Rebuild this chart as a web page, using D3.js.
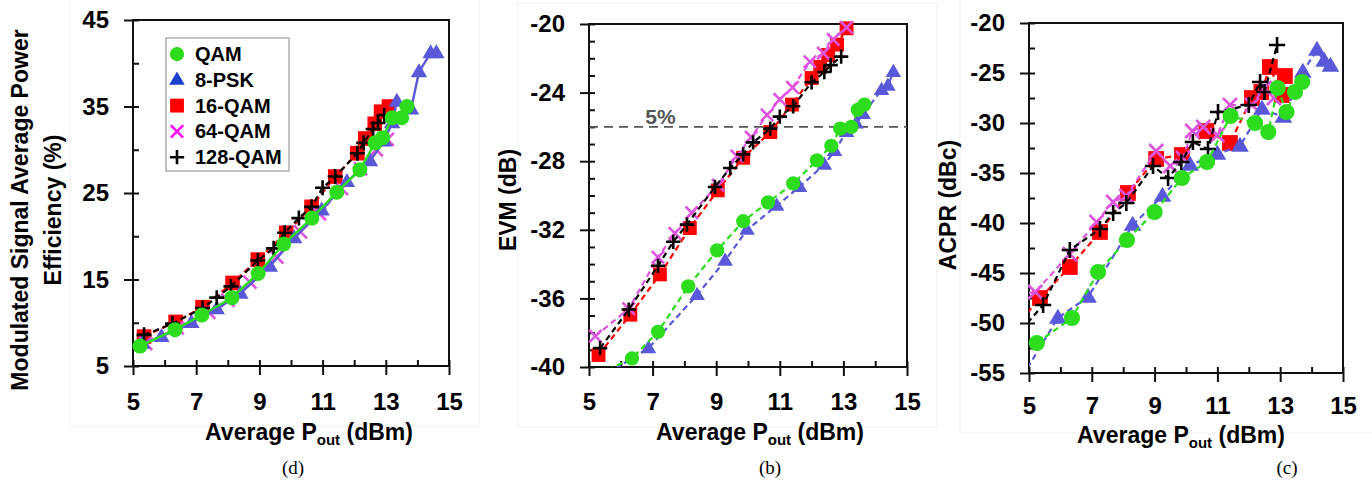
<!DOCTYPE html>
<html>
<head>
<meta charset="utf-8">
<script src="https://cdn.jsdelivr.net/npm/d3@7"></script>
<style>
  html, body { margin: 0; padding: 0; background: #fff; }
  svg { display: block; }
</style>
</head>
<body>
<svg id="fig" width="1372" height="481"></svg>
<script>
// ---------- shared axis values ----------
const xTicksMajor = [5, 7, 9, 11, 13, 15];
const xTicksAll   = [5, 6, 7, 8, 9, 10, 11, 12, 13, 14, 15];
const seriesNames = ["QAM", "8-PSK", "16-QAM", "64-QAM", "128-QAM"];

// ---------- (d) average power efficiency (%) vs Pout (dBm) ----------
const effYMajor = [5, 15, 25, 35, 45];
const effYAll   = [5, 10, 15, 20, 25, 30, 35, 40, 45];
const effQamX = [5.22, 6.33, 7.18, 8.13, 8.96, 9.77, 10.66, 11.45, 12.18, 12.66, 12.9, 13.2, 13.5, 13.67];
const effQamY = [7.3, 9.2, 10.9, 12.9, 15.7, 19.1, 22.1, 25.1, 27.7, 30.8, 31.4, 33.7, 33.7, 35.0];
const effPskX = [5.3, 5.9, 6.85, 7.65, 8.4, 9.33, 10.1, 10.97, 11.77, 12.5, 12.95, 13.2, 13.35, 13.8, 14.05, 14.42, 14.6];
const effPskY = [7.6, 8.4, 10.0, 11.6, 13.4, 16.5, 19.8, 23.0, 26.3, 28.7, 31.0, 33.1, 35.6, 34.7, 39.0, 41.2, 41.2];
const eff16X  = [5.35, 6.35, 7.2, 8.15, 8.95, 9.85, 10.65, 11.4, 12.1, 12.35, 12.65, 12.85, 13.1];
const eff16Y  = [8.4, 10.1, 11.8, 14.6, 17.3, 20.4, 23.4, 26.9, 29.6, 31.3, 33.0, 34.4, 35.0];
const eff64X  = [5.4, 6.4, 7.4, 8.0, 8.7, 9.55, 10.3, 10.9, 11.6, 12.2, 12.7, 13.05];
const eff64Y  = [7.6, 9.4, 11.2, 12.6, 14.7, 17.6, 20.5, 22.6, 25.5, 27.8, 30.0, 31.2];
const eff128X = [5.35, 6.25, 7.2, 7.65, 8.1, 8.95, 9.45, 9.8, 10.25, 10.65, 11.0, 11.4, 12.1, 12.3, 12.6, 12.75, 12.95];
const eff128Y = [8.6, 9.9, 11.7, 12.9, 14.2, 17.2, 18.6, 20.4, 22.1, 23.4, 25.6, 26.9, 29.6, 30.8, 32.4, 33.1, 34.0];

// ---------- (b) EVM (dB) vs Pout (dBm) ----------
const evmYMajor = [-40, -36, -32, -28, -24, -20];
const evmYAll   = d3.range(-40, -19, 1);
const evmLimit  = -26;           // 5 % EVM
const evmLimitLabel = "5%";
const evmQamX = [5.3, 6.35, 7.17, 8.12, 9.03, 9.85, 10.63, 11.42, 12.17, 12.62, 12.9, 13.25, 13.45, 13.66];
const evmQamY = [-40.4, -39.5, -37.95, -35.3, -33.2, -31.5, -30.4, -29.3, -27.95, -27.1, -26.1, -26.0, -25.0, -24.7];
const evmPskX = [5.3, 6.87, 8.4, 9.28, 9.97, 10.9, 11.62, 12.4, 12.72, 13.1, 13.4, 13.62, 14.2, 14.4, 14.57];
const evmPskY = [-40.7, -38.9, -35.8, -33.8, -32.0, -30.6, -29.5, -28.2, -27.4, -26.3, -25.8, -25.25, -23.85, -23.6, -22.8];
const evm16X  = [5.3, 6.3, 7.23, 8.17, 9.05, 9.85, 10.7, 11.38, 12.0, 12.27, 12.52, 12.8, 13.1];
const evm16Y  = [-39.3, -36.95, -34.6, -31.9, -29.7, -27.8, -26.3, -24.7, -23.15, -22.5, -21.8, -21.2, -20.25];
const evm64X  = [5.2, 6.25, 7.17, 7.7, 8.23, 9.06, 9.65, 10.1, 10.6, 11.0, 11.4, 11.95, 12.37, 12.68, 13.1];
const evm64Y  = [-38.2, -36.6, -33.6, -32.2, -31.0, -29.4, -27.7, -26.6, -25.3, -24.4, -23.7, -22.2, -21.7, -20.9, -20.2];
const evm128X = [5.35, 6.25, 7.17, 7.65, 8.08, 8.96, 9.44, 9.85, 10.16, 10.7, 11.0, 11.42, 12.0, 12.4, 12.6, 12.93];
const evm128Y = [-38.9, -36.65, -34.1, -32.7, -31.7, -29.5, -28.4, -27.6, -26.9, -26.1, -25.4, -24.8, -23.4, -22.8, -22.4, -21.9];

// ---------- (c) ACPR (dBc) vs Pout (dBm) ----------
const acprYMajor = [-55, -50, -45, -40, -35, -30, -25, -20];
const acprYAll   = d3.range(-55, -19, 2.5);
const acprQamX = [5.25, 6.37, 7.2, 8.12, 9.0, 9.87, 10.67, 11.42, 12.2, 12.62, 12.92, 13.2, 13.47, 13.7];
const acprQamY = [-52.0, -49.5, -44.9, -41.7, -38.9, -35.5, -33.9, -29.3, -30.0, -30.9, -26.5, -28.9, -26.9, -25.9];
const acprPskX = [4.95, 5.92, 6.88, 8.3, 9.25, 10.13, 11.0, 11.72, 12.42, 13.1, 13.72, 14.17, 14.4, 14.6];
const acprPskY = [-54.5, -49.5, -47.4, -40.2, -37.3, -34.2, -33.1, -32.3, -28.6, -29.4, -24.9, -22.7, -23.8, -24.3];
const acpr16X  = [4.95, 5.35, 6.3, 7.26, 8.15, 9.05, 9.87, 10.65, 11.4, 12.1, 12.4, 12.67, 13.05, 13.15];
const acpr16Y  = [-49.0, -47.5, -44.4, -40.9, -37.0, -33.6, -33.2, -30.8, -32.0, -27.5, -26.9, -24.4, -27.2, -25.3];
const acpr64X  = [4.95, 5.2, 6.3, 7.15, 7.68, 8.1, 9.05, 9.5, 9.9, 10.2, 10.55, 11.0, 11.4, 12.1, 12.5, 12.8];
const acpr64Y  = [-47.0, -46.9, -43.1, -39.9, -37.9, -37.3, -32.8, -34.3, -33.5, -30.8, -30.4, -31.2, -28.2, -28.2, -26.5, -27.5];
const acpr128X = [4.95, 5.45, 6.3, 7.26, 7.68, 8.1, 8.95, 9.43, 9.85, 10.22, 10.7, 11.02, 12.0, 12.36, 12.5, 12.9];
const acpr128Y = [-50.0, -48.2, -42.7, -40.6, -39.0, -38.0, -34.3, -35.5, -33.9, -31.9, -32.6, -28.9, -28.2, -25.9, -26.9, -22.2];

// ---------- styling ----------
const FONT = "'Liberation Sans', Arial, Helvetica, sans-serif";
const SERIF = "'Liberation Serif', 'Times New Roman', serif";
const look = {
  "QAM":     { color: "#2edc1e", shape: "circle" },
  "8-PSK":   { color: "#5858d8", legendColor: "#1b3fcf", shape: "triangle" },
  "16-QAM":  { color: "#ff0000", shape: "square" },
  "64-QAM":  { color: "#dd55dd", legendColor: "#ff14ff", shape: "cross" },
  "128-QAM": { color: "#000000", shape: "plus" }
};
const drawOrder = ["16-QAM", "64-QAM", "8-PSK", "128-QAM", "QAM"];

function markerPath(shape, k) {
  if (shape === "circle")   { const r = 7.5 * k; return `M${r},0A${r},${r} 0 1,1 ${-r},0A${r},${r} 0 1,1 ${r},0Z`; }
  if (shape === "square")   { const s = 7.3 * k; return `M${-s},${-s}H${s}V${s}H${-s}Z`; }
  if (shape === "triangle") { const w = 8.2 * k, h = 14 * k; return `M0,${-h * 0.62}L${w},${h * 0.38}L${-w},${h * 0.38}Z`; }
  if (shape === "cross")    { const c = 6.5 * k; return `M${-c},${-c}L${c},${c}M${-c},${c}L${c},${-c}`; }
  if (shape === "plus")     { const p = 7.5 * k; return `M${-p},0H${p}M0,${-p}V${p}`; }
}
function styleMarker(sel, name, useLegend) {
  const L = look[name];
  const c = (useLegend && L.legendColor) ? L.legendColor : L.color;
  if (L.shape === "cross" || L.shape === "plus") {
    sel.attr("fill", "none").attr("stroke", c).attr("stroke-width", 2.6);
  } else {
    sel.attr("fill", c).attr("stroke", "none");
  }
}

const svg = d3.select("#fig");
const defs = svg.append("defs");

// faint outlines of the three figure tiles
[[70, -2, 409, 428], [518, 3, 419, 424], [960, -2, 420, 435]].forEach(([x0, y0, w, h]) => {
  svg.append("rect").attr("x", x0).attr("y", y0).attr("width", w).attr("height", h)
    .attr("fill", "none").attr("stroke", "#f0f0f0").attr("stroke-width", 1);
});

function drawPanel(o) {
  const x = d3.scaleLinear().domain([5, 15]).range([o.left, o.right]);
  const y = d3.scaleLinear().domain(o.yDomain).range([o.bottom, o.top]);
  const g = svg.append("g");

  defs.append("clipPath").attr("id", "clip-" + o.id)
    .append("rect").attr("x", o.left).attr("y", o.top)
    .attr("width", o.right - o.left).attr("height", o.bottom - o.top);

  // inward ticks on every step
  g.append("g").attr("transform", `translate(${o.left},0)`)
    .call(d3.axisLeft(y).tickValues(o.yAll).tickSize(-6).tickFormat(""));
  g.append("g").attr("transform", `translate(0,${o.bottom})`)
    .call(d3.axisBottom(x).tickValues(xTicksAll).tickSize(-6).tickFormat(""));
  // outward ticks with labels on the major steps
  g.append("g").attr("transform", `translate(${o.left},0)`)
    .call(d3.axisLeft(y).tickValues(o.yMajor).tickSize(9).tickPadding(15).tickFormat(d => String(d)));
  g.append("g").attr("transform", `translate(0,${o.bottom})`)
    .call(d3.axisBottom(x).tickValues(xTicksMajor).tickSize(9).tickPadding(o.xPad).tickFormat(d => String(d)));

  g.selectAll(".domain").remove();
  g.selectAll(".tick line").attr("stroke", "#111").attr("stroke-width", 2);
  g.selectAll(".tick text").attr("fill", "#000").attr("font-family", FONT)
    .attr("font-weight", "bold").attr("font-size", 24);

  // plot frame
  g.append("rect").attr("x", o.left).attr("y", o.top)
    .attr("width", o.right - o.left).attr("height", o.bottom - o.top)
    .attr("fill", "none").attr("stroke", "#111").attr("stroke-width", 2);

  if (o.refLine !== undefined) {
    g.append("line").attr("x1", x(5)).attr("x2", x(15))
      .attr("y1", y(o.refLine)).attr("y2", y(o.refLine))
      .attr("stroke", "#555").attr("stroke-width", 1.6).attr("stroke-dasharray", "9,6");
    g.append("text").attr("x", x(7.25)).attr("y", y(o.refLine) - 3)
      .attr("text-anchor", "middle").attr("font-family", FONT).attr("font-weight", "bold")
      .attr("font-size", 21).attr("fill", "#555").text(o.refLabel);
  }

  const line = d3.line().x(d => x(d[0])).y(d => y(d[1]));
  drawOrder.forEach(name => {
    const s = o.series[name];
    const pts = s.xs.map((v, i) => [v, s.ys[i]]);
    const solid = o.solid && o.solid.includes(name);
    g.append("path").datum(pts).attr("d", line)
      .attr("clip-path", `url(#clip-${o.id})`)
      .attr("fill", "none").attr("stroke", look[name].color)
      .attr("stroke-width", solid ? 2.4 : 2.2)
      .attr("stroke-dasharray", solid ? null : "6,4");
    const inside = pts.filter(p => p[0] >= 5 && p[1] >= o.yDomain[0] && p[1] <= o.yDomain[1]);
    g.append("g").selectAll("path").data(inside).join("path")
      .attr("transform", d => `translate(${x(d[0])},${y(d[1])})`)
      .attr("d", markerPath(look[name].shape, o.k))
      .call(sel => styleMarker(sel, name, false));
  });

  // axis titles
  o.yTitle.forEach((t, i) => {
    g.append("text").attr("transform", `translate(${o.yTitleX[i]},${o.yTitleY}) rotate(-90)`)
      .attr("text-anchor", "middle").attr("font-family", FONT).attr("font-weight", "bold")
      .attr("font-size", 23).attr("fill", "#000").text(t);
  });
  const xt = g.append("text").attr("x", o.xTitleX).attr("y", o.xTitleBase)
    .attr("text-anchor", "middle").attr("font-family", FONT).attr("font-weight", "bold")
    .attr("font-size", 23).attr("fill", "#000");
  xt.append("tspan").text("Average P");
  xt.append("tspan").attr("font-size", 15).attr("dy", 5).text("out");
  xt.append("tspan").attr("dy", -5).text(" (dBm)");

  g.append("text").attr("x", o.capX).attr("y", 474).attr("text-anchor", "middle")
    .attr("font-family", SERIF).attr("font-size", 19).attr("fill", "#000").text(o.caption);
  return g;
}

const mk = (xs, ys) => ({ xs, ys });

const p1 = drawPanel({
  id: "eff", left: 133, right: 449, top: 20, bottom: 366, k: 1,
  yDomain: [5, 45], yMajor: effYMajor, yAll: effYAll, xPad: 18,
  solid: ["8-PSK", "QAM"],
  series: {
    "QAM": mk(effQamX, effQamY), "8-PSK": mk(effPskX, effPskY), "16-QAM": mk(eff16X, eff16Y),
    "64-QAM": mk(eff64X, eff64Y), "128-QAM": mk(eff128X, eff128Y)
  },
  yTitle: ["Modulated Signal Average Power", "Efficiency (%)"], yTitleX: [28, 61], yTitleY: 210,
  xTitleX: 309, xTitleBase: 440, capX: 293, caption: "(d)"
});

drawPanel({
  id: "evm", left: 589, right: 907, top: 24, bottom: 367, k: 0.95,
  yDomain: [-40, -20], yMajor: evmYMajor, yAll: evmYAll, xPad: 17,
  refLine: evmLimit, refLabel: evmLimitLabel,
  series: {
    "QAM": mk(evmQamX, evmQamY), "8-PSK": mk(evmPskX, evmPskY), "16-QAM": mk(evm16X, evm16Y),
    "64-QAM": mk(evm64X, evm64Y), "128-QAM": mk(evm128X, evm128Y)
  },
  yTitle: ["EVM (dB)"], yTitleX: [516], yTitleY: 200,
  xTitleX: 760, xTitleBase: 440, capX: 770, caption: "(b)"
});

drawPanel({
  id: "acpr", left: 1029, right: 1343, top: 23, bottom: 373, k: 1.08,
  yDomain: [-55, -20], yMajor: acprYMajor, yAll: acprYAll, xPad: 15,
  series: {
    "QAM": mk(acprQamX, acprQamY), "8-PSK": mk(acprPskX, acprPskY), "16-QAM": mk(acpr16X, acpr16Y),
    "64-QAM": mk(acpr64X, acpr64Y), "128-QAM": mk(acpr128X, acpr128Y)
  },
  yTitle: ["ACPR (dBc)"], yTitleX: [956], yTitleY: 205,
  xTitleX: 1181, xTitleBase: 443, capX: 1287, caption: "(c)"
});

// legend for the efficiency panel
const leg = p1.append("g");
leg.append("rect").attr("x", 166).attr("y", 38).attr("width", 123).attr("height", 133)
  .attr("fill", "#fff").attr("stroke", "#999").attr("stroke-width", 1.2);
seriesNames.forEach((name, i) => {
  const cy = 54 + i * 25.8;
  leg.append("path").attr("transform", `translate(177,${cy})`)
    .attr("d", markerPath(look[name].shape, 0.95))
    .call(sel => styleMarker(sel, name, true));
  leg.append("text").attr("x", 195).attr("y", cy).attr("dy", "0.35em")
    .attr("font-family", FONT).attr("font-weight", "bold").attr("font-size", 20)
    .attr("fill", "#000").text(name);
});
</script>
</body>
</html>
